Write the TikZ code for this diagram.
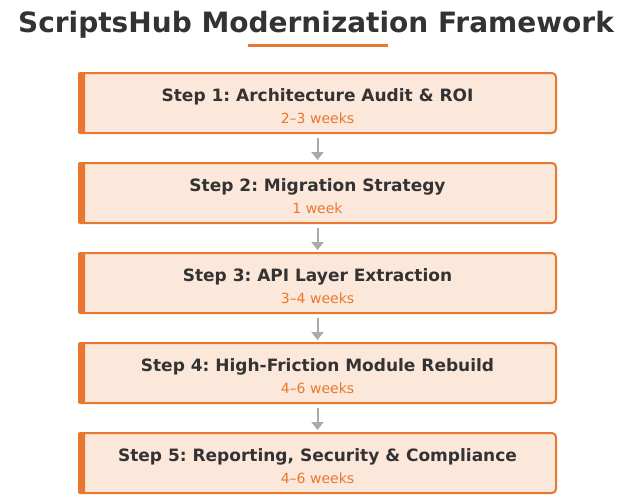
\documentclass[tikz,border=0pt]{standalone}
\usepackage{fontspec}
\setmainfont{DejaVu Sans}
\frenchspacing
\usetikzlibrary{arrows.meta}
\definecolor{naranja}{HTML}{E87830}
\definecolor{durazno}{HTML}{FCE8DB}
\definecolor{texto}{HTML}{333333}
\definecolor{gris}{HTML}{AAAAAA}
\begin{document}
\begin{tikzpicture}[
    x=1pt, y=-1pt,
    paso/.style={draw=naranja, line width=2pt, fill=durazno, rounded corners=4pt, minimum width=477pt, minimum height=60pt, inner sep=0pt},
    barra/.style={fill=naranja, rounded corners=2pt},
    tituloPaso/.style={anchor=base, text=texto, font=\fontsize{17}{20}\selectfont\bfseries, inner sep=0pt},
    duracion/.style={anchor=base, text=naranja, font=\fontsize{14}{16}\selectfont, inner sep=0pt},
    flecha/.style={draw=gris, line width=2pt, -{Triangle[width=12pt, length=8pt]}, shorten <=4pt, shorten >=2pt}
]
\useasboundingbox (0,0) rectangle (629,501);
% Titulo
\node[anchor=base, text=texto, font=\fontsize{28}{32}\selectfont\bfseries, inner sep=0pt] (titulo) at (316,32) {ScriptsHub Modernization Framework};
\draw[naranja, line width=3pt] (248,45.5) -- (388,45.5);
% Pasos
\node[paso] (paso1) at (317.5,103) {};
\node[paso] (paso2) at (317.5,193) {};
\node[paso] (paso3) at (317.5,283) {};
\node[paso] (paso4) at (317.5,373) {};
\node[paso] (paso5) at (317.5,463) {};
% Barras laterales
\fill[barra] (paso1.north west) rectangle ([xshift=7pt]paso1.south west);
\fill[barra] (paso2.north west) rectangle ([xshift=7pt]paso2.south west);
\fill[barra] (paso3.north west) rectangle ([xshift=7pt]paso3.south west);
\fill[barra] (paso4.north west) rectangle ([xshift=7pt]paso4.south west);
\fill[barra] (paso5.north west) rectangle ([xshift=7pt]paso5.south west);
% Textos
\node[tituloPaso] (titulo1) at ([yshift=2pt]paso1.center) {Step 1: Architecture Audit \& ROI};
\node[duracion] (duracion1) at ([yshift=-20pt]paso1.center) {2–3 weeks};
\node[tituloPaso] (titulo2) at ([yshift=2pt]paso2.center) {Step 2: Migration Strategy};
\node[duracion] (duracion2) at ([yshift=-20pt]paso2.center) {1 week};
\node[tituloPaso] (titulo3) at ([yshift=2pt]paso3.center) {Step 3: API Layer Extraction};
\node[duracion] (duracion3) at ([yshift=-20pt]paso3.center) {3–4 weeks};
\node[tituloPaso] (titulo4) at ([yshift=2pt]paso4.center) {Step 4: High-Friction Module Rebuild};
\node[duracion] (duracion4) at ([yshift=-20pt]paso4.center) {4–6 weeks};
\node[tituloPaso] (titulo5) at ([yshift=2pt]paso5.center) {Step 5: Reporting, Security \& Compliance};
\node[duracion] (duracion5) at ([yshift=-20pt]paso5.center) {4–6 weeks};
% Flechas
\draw[flecha] (paso1) -- (paso2);
\draw[flecha] (paso2) -- (paso3);
\draw[flecha] (paso3) -- (paso4);
\draw[flecha] (paso4) -- (paso5);
\end{tikzpicture}
\end{document}
